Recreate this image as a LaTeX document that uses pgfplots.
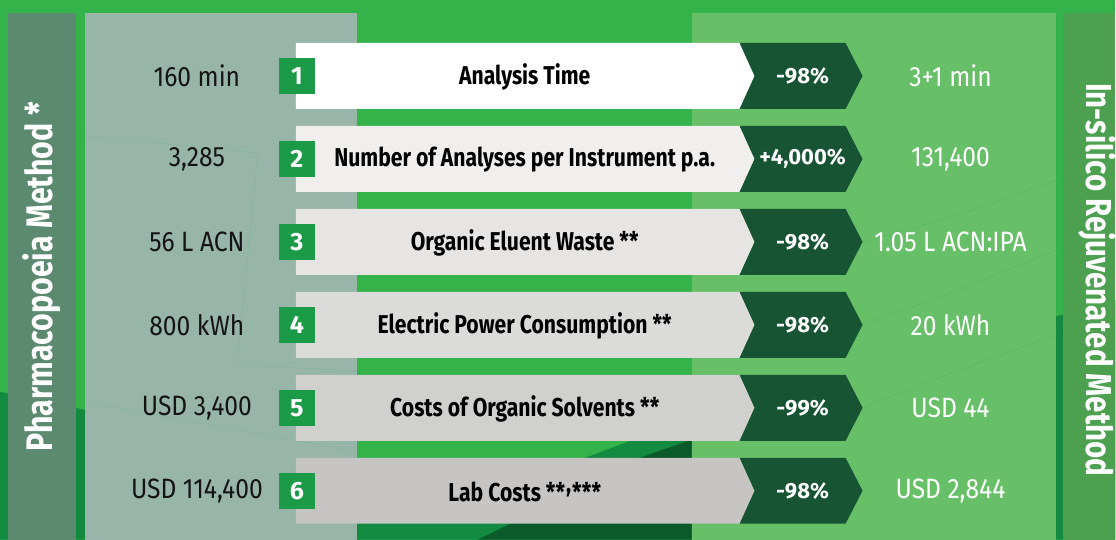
\documentclass[border=0pt]{standalone}
\usepackage{fontspec}
\setmainfont{Fira Sans}
\newfontfamily\valfont{Fira Sans}[FakeStretch=0.88]
\newfontfamily\condfont{Fira Sans}[FakeStretch=0.82]
\usepackage{pgfplots}
\pgfplotsset{compat=1.18}
\definecolor{bg}{HTML}{33B34A}
\definecolor{bgdark}{HTML}{128A40}
\definecolor{bgdarker}{HTML}{0B5A2A}
\definecolor{leftband}{HTML}{5B8A71}
\definecolor{leftpanel}{HTML}{98B5AA}
\definecolor{rightpanel}{HTML}{67BF67}
\definecolor{rightband}{HTML}{4CA050}
\definecolor{chev}{HTML}{165433}
\definecolor{numbox}{HTML}{1B9A48}
\definecolor{barA}{HTML}{FFFFFF}
\definecolor{barB}{HTML}{F0EFEE}
\definecolor{barC}{HTML}{E6E5E4}
\definecolor{barD}{HTML}{DBDBDA}
\definecolor{barE}{HTML}{D0D0CF}
\definecolor{barF}{HTML}{C6C5C4}
\begin{document}
\begin{tikzpicture}
\begin{axis}[width=558pt,height=270pt,scale only axis,
  xmin=0,xmax=1116,ymin=0,ymax=540,y dir=reverse,
  hide axis,clip=false]
% background
\addplot[fill=bg,draw=none] coordinates {(0,0) (1116,0) (1116,540) (0,540)} -- cycle;
\addplot[fill=bgdark,draw=none] coordinates {(0,392) (357,468) (583,459) (692,418) (1116,300) (1116,540) (0,540)} -- cycle;
\addplot[fill=bgdarker,draw=none] coordinates {(478,540) (560,500) (640,458) (692,440) (692,540)} -- cycle;
% panels
\addplot[fill=leftband,draw=none] coordinates {(8,13) (76,13) (76,540) (8,540)} -- cycle;
\addplot[fill=leftpanel,draw=none] coordinates {(85,13) (357,13) (357,540) (85,540)} -- cycle;
\addplot[fill=rightpanel,draw=none] coordinates {(692,13) (1057,13) (1057,540) (692,540)} -- cycle;
\addplot[fill=rightband,draw=none] coordinates {(1064,13) (1116,13) (1116,540) (1064,540)} -- cycle;
% faint lines in left panel
\addplot[draw=leftpanel!80!bg,line width=0.2pt] coordinates {(85,136) (258,153) (237,365) (357,371)};
\addplot[draw=leftpanel!80!bg,line width=0.2pt] coordinates {(85,402) (357,452)};
% faint lines in right panel
\addplot[draw=rightpanel!85!bgdark,line width=0.2pt] coordinates {(863,242) (960,215) (1057,180)};
\addplot[draw=rightpanel!85!bgdark,line width=0.2pt] coordinates {(863,325) (960,290) (1057,250)};
\addplot[draw=rightpanel!85!bgdark,line width=0.2pt] coordinates {(863,408) (960,370) (1057,335)};
% row bars
\addplot[fill=barA,draw=none] coordinates {(296,43) (740,43) (755,76) (740,109) (296,109)} -- cycle;
\addplot[fill=barB,draw=none] coordinates {(296,126) (740,126) (755,159) (740,192) (296,192)} -- cycle;
\addplot[fill=barC,draw=none] coordinates {(296,209) (740,209) (755,242) (740,275) (296,275)} -- cycle;
\addplot[fill=barD,draw=none] coordinates {(296,292) (740,292) (755,325) (740,358) (296,358)} -- cycle;
\addplot[fill=barE,draw=none] coordinates {(296,375) (740,375) (755,408) (740,441) (296,441)} -- cycle;
\addplot[fill=barF,draw=none] coordinates {(296,458) (740,458) (755,491) (740,524) (296,524)} -- cycle;
% chevrons
\addplot[fill=chev,draw=none] coordinates {(740,43) (846,43) (863,76) (846,109) (740,109) (755,76)} -- cycle;
\addplot[fill=chev,draw=none] coordinates {(740,126) (846,126) (863,159) (846,192) (740,192) (755,159)} -- cycle;
\addplot[fill=chev,draw=none] coordinates {(740,209) (846,209) (863,242) (846,275) (740,275) (755,242)} -- cycle;
\addplot[fill=chev,draw=none] coordinates {(740,292) (846,292) (863,325) (846,358) (740,358) (755,325)} -- cycle;
\addplot[fill=chev,draw=none] coordinates {(740,375) (846,375) (863,408) (846,441) (740,441) (755,408)} -- cycle;
\addplot[fill=chev,draw=none] coordinates {(740,458) (846,458) (863,491) (846,524) (740,524) (755,491)} -- cycle;
% number boxes
\addplot[fill=numbox,draw=none] coordinates {(279,58) (315,58) (315,94) (279,94)} -- cycle;
\addplot[fill=numbox,draw=none] coordinates {(279,141) (315,141) (315,177) (279,177)} -- cycle;
\addplot[fill=numbox,draw=none] coordinates {(279,224) (315,224) (315,260) (279,260)} -- cycle;
\addplot[fill=numbox,draw=none] coordinates {(279,307) (315,307) (315,343) (279,343)} -- cycle;
\addplot[fill=numbox,draw=none] coordinates {(279,390) (315,390) (315,426) (279,426)} -- cycle;
\addplot[fill=numbox,draw=none] coordinates {(279,473) (315,473) (315,509) (279,509)} -- cycle;
% vertical titles
\node[rotate=90,inner sep=0pt,text=white,font=\condfont\bfseries\fontsize{18.5}{20}\selectfont] at (axis cs:42,277) {Pharmacopoeia Method *};
\node[rotate=-90,inner sep=0pt,text=white,font=\condfont\bfseries\fontsize{18}{20}\selectfont] at (axis cs:1098,280) {In-silico Rejuvenated Method};
% left values
\begin{scope}[every node/.style={text=black!92,font=\valfont\fontsize{14}{16}\selectfont}]
\node at (axis cs:197,76) {160 min};
\node at (axis cs:197,159) {3,285};
\node at (axis cs:197,242) {56 L ACN};
\node at (axis cs:197,325) {800 kWh};
\node at (axis cs:197,408) {USD 3,400};
\node at (axis cs:197,491) {USD 114,400};
\end{scope}
% right values
\begin{scope}[every node/.style={text=white,font=\valfont\fontsize{14}{16}\selectfont}]
\node at (axis cs:951,76) {3+1 min};
\node at (axis cs:951,159) {131,400};
\node at (axis cs:951,242) {1.05 L ACN:IPA};
\node at (axis cs:951,325) {20 kWh};
\node at (axis cs:951,408) {USD 44};
\node at (axis cs:951,491) {USD 2,844};
\end{scope}
% numbers
\begin{scope}[every node/.style={text=white,font=\bfseries\fontsize{12.5}{14}\selectfont}]
\node at (axis cs:297,76) {1};
\node at (axis cs:297,159) {2};
\node at (axis cs:297,242) {3};
\node at (axis cs:297,325) {4};
\node at (axis cs:297,408) {5};
\node at (axis cs:297,491) {6};
\end{scope}
% titles
\begin{scope}[every node/.style={text=black,font=\condfont\bfseries\fontsize{12.9}{15}\selectfont}]
\node at (axis cs:525,77) {Analysis Time};
\node at (axis cs:525,160) {Number of Analyses per Instrument p.a.};
\node at (axis cs:525,243) {Organic Eluent Waste **};
\node at (axis cs:525,326) {Electric Power Consumption **};
\node at (axis cs:525,409) {Costs of Organic Solvents **};
\node at (axis cs:525,492) {Lab Costs **\kern0.5pt\raisebox{0.33em}{,}\kern0.5pt***};
\end{scope}
% percentages
\begin{scope}[every node/.style={text=white,font=\bfseries\fontsize{11}{13}\selectfont}]
\node at (axis cs:803,76) {-98\%};
\node at (axis cs:803,159) {+4,000\%};
\node at (axis cs:803,242) {-98\%};
\node at (axis cs:803,325) {-98\%};
\node at (axis cs:803,408) {-99\%};
\node at (axis cs:803,491) {-98\%};
\end{scope}
\end{axis}
\end{tikzpicture}
\end{document}
